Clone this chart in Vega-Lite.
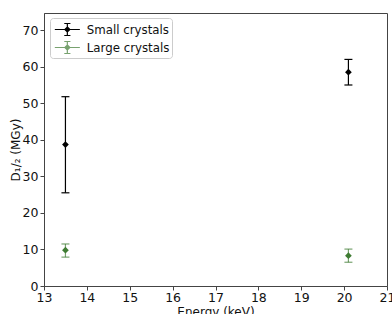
{
  "$schema": "https://vega.github.io/schema/vega-lite/v6.json",
  "autosize": "none",
  "padding": {"left": 44, "top": 13, "right": 5, "bottom": 28},
  "width": 343,
  "height": 273,
  "background": "white",
  "config": {
    "font": "DejaVu Sans",
    "view": {"stroke": "#444", "strokeWidth": 1},
    "axis": {
      "grid": false,
      "domainColor": "#444",
      "tickColor": "#444",
      "tickSize": 4,
      "labelFontSize": 12.5,
      "labelColor": "#111",
      "labelOverlap": false,
      "labelFlush": false,
      "titleFontSize": 12,
      "titleFontWeight": "normal",
      "titleColor": "#111"
    }
  },
  "data": {
    "values": [
      {"series": "Small crystals", "energy": 13.5, "d": 38.7, "lo": 25.5, "hi": 51.8},
      {"series": "Small crystals", "energy": 20.1, "d": 58.5, "lo": 55.0, "hi": 62.0},
      {"series": "Large crystals", "energy": 13.5, "d": 9.8, "lo": 7.9, "hi": 11.5},
      {"series": "Large crystals", "energy": 20.1, "d": 8.3, "lo": 6.5, "hi": 10.1}
    ]
  },
  "encoding": {
    "x": {
      "field": "energy", "type": "quantitative",
      "scale": {"domain": [13, 21], "nice": false, "zero": false},
      "axis": {"values": [13, 14, 15, 16, 17, 18, 19, 20, 21], "title": "Energy (keV)", "titlePadding": 3, "labelPadding": 1}
    },
    "color": {
      "field": "series", "type": "nominal",
      "scale": {"domain": ["Small crystals", "Large crystals"], "range": ["#000000", "#3f7c33"]},
      "legend": {
        "title": null,
        "orient": "none",
        "legendX": 6,
        "legendY": 5,
        "fillColor": "white",
        "strokeColor": "#cccccc",
        "cornerRadius": 3,
        "padding": 2,
        "labelFontSize": 11.8,
        "labelColor": "#111",
        "labelOffset": 15.7,
        "rowPadding": 0,
        "symbolType": "M-0.77,0H2.12M0.674,-0.69V0.69M0.32,-0.69H1.03M0.32,0.69H1.03M0.674,-0.29L0.964,0L0.674,0.29L0.384,0Z",
        "symbolSize": 300,
        "symbolStrokeWidth": 1.2
      }
    }
  },
  "layer": [
    {
      "mark": {"type": "rule", "strokeWidth": 1.2},
      "encoding": {
        "y": {"field": "lo", "type": "quantitative", "scale": {"domain": [0, 74.7], "nice": false},
          "axis": {"values": [0, 10, 20, 30, 40, 50, 60, 70], "title": "D₁/₂ (MGy)", "titlePadding": 0, "labelPadding": 2}},
        "y2": {"field": "hi"},
        "opacity": {"field": "series", "type": "nominal", "scale": {"domain": ["Small crystals", "Large crystals"], "range": [1, 0.7]}, "legend": null}
      }
    },
    {
      "mark": {"type": "tick", "orient": "horizontal", "size": 8, "thickness": 1.2},
      "encoding": {
        "y": {"field": "lo", "type": "quantitative", "scale": {"domain": [0, 74.7], "nice": false},
          "axis": {"values": [0, 10, 20, 30, 40, 50, 60, 70], "title": "D₁/₂ (MGy)", "titlePadding": 0, "labelPadding": 2}},
        "opacity": {"field": "series", "type": "nominal", "scale": {"domain": ["Small crystals", "Large crystals"], "range": [1, 0.7]}, "legend": null}
      }
    },
    {
      "mark": {"type": "tick", "orient": "horizontal", "size": 8, "thickness": 1.2},
      "encoding": {
        "y": {"field": "hi", "type": "quantitative", "scale": {"domain": [0, 74.7], "nice": false},
          "axis": {"values": [0, 10, 20, 30, 40, 50, 60, 70], "title": "D₁/₂ (MGy)", "titlePadding": 0, "labelPadding": 2}},
        "opacity": {"field": "series", "type": "nominal", "scale": {"domain": ["Small crystals", "Large crystals"], "range": [1, 0.7]}, "legend": null}
      }
    },
    {
      "mark": {"type": "point", "shape": "diamond", "filled": true, "size": 45, "opacity": 1},
      "encoding": {
        "y": {"field": "d", "type": "quantitative", "scale": {"domain": [0, 74.7], "nice": false},
          "axis": {"values": [0, 10, 20, 30, 40, 50, 60, 70], "title": "D₁/₂ (MGy)", "titlePadding": 0, "labelPadding": 2}}
      }
    }
  ]
}
